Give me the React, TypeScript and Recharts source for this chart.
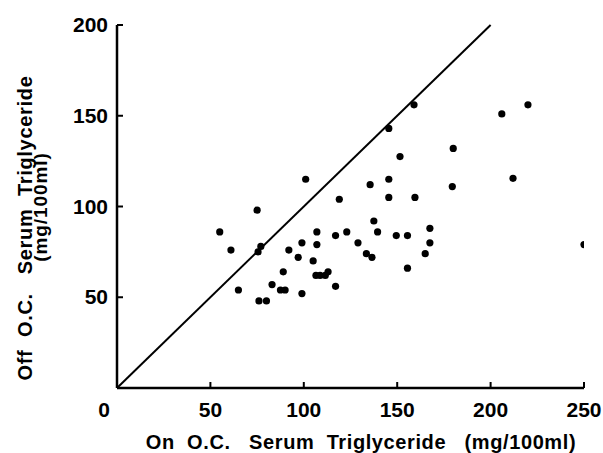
import { ScatterChart, Scatter, XAxis, YAxis, ReferenceLine } from "recharts";

// On O.C. (x) vs Off O.C. (y) serum triglyceride, mg/100ml
const onOC = [
  55, 61, 65, 75, 75.5, 77, 76, 80, 83, 89, 87.5, 90, 92, 97, 99, 99, 101, 105,
  107, 107, 106.5, 108.7, 111.5, 113, 117, 117, 119, 123, 129, 133.5, 135.5,
  136.5, 137.5, 139.5, 145.5, 145.5, 145.5, 149.5, 151.5, 155.5, 155.5, 159,
  159.5, 165, 167.5, 167.5, 180, 179.5, 206, 212, 220, 250,
];
const offOC = [
  86, 76, 54, 98, 75, 78, 48, 48, 57, 64, 54, 54, 76, 72, 80, 52, 115, 70,
  86, 79, 62, 62, 62, 64, 84, 56, 104, 86, 80, 74, 112, 72, 92, 86, 143, 115,
  105, 84, 127.5, 84, 66, 156, 105, 74, 88, 80, 132, 111, 151, 115.5, 156, 79,
];
const points = onOC.map((x, i) => ({ x, y: offOC[i] }));

const xTicks = [0, 50, 100, 150, 200, 250];
const yTicks = [50, 100, 150, 200];
const identity = [
  { x: 0, y: 0 },
  { x: 200, y: 200 },
];

const font = "'Liberation Sans', Arial, sans-serif";
const pre = { whiteSpace: "pre" as const };

const XTick = ({ x, y, payload }: any) => (
  <g>
    {payload.value !== 0 && (
      <line x1={x} y1={y} x2={x} y2={y - 6} stroke="#000" strokeWidth={2} />
    )}
    <text
      x={payload.value === 0 ? x - 13 : x}
      y={y + 29}
      textAnchor="middle"
      fontFamily={font}
      fontWeight="bold"
      fontSize={21}
      fill="#000"
    >
      {payload.value}
    </text>
  </g>
);

const YTick = ({ x, y, payload }: any) => (
  <g>
    <line x1={x} y1={y} x2={x + 6} y2={y} stroke="#000" strokeWidth={2} />
    <text
      x={x - 9}
      y={y + 7}
      textAnchor="end"
      fontFamily={font}
      fontWeight="bold"
      fontSize={21}
      fill="#000"
    >
      {payload.value}
    </text>
  </g>
);

const Dot = (p: any) => <circle cx={p.cx} cy={p.cy} r={3.6} fill="#000" />;

export default function App() {
  return (
    <div style={{ position: "absolute", left: 0, top: 0, width: 603, height: 453, background: "#fff" }}>
      <ScatterChart
        width={603}
        height={453}
        margin={{ top: 25, right: 19, bottom: 5, left: 57 }}
      >
        <XAxis
          type="number"
          dataKey="x"
          domain={[0, 250]}
          ticks={xTicks}
          tick={<XTick />}
          tickLine={false}
          tickSize={0}
          tickMargin={0}
          axisLine={{ stroke: "#000", strokeWidth: 2.5 }}
          height={60}
          allowDataOverflow
        />
        <YAxis
          type="number"
          dataKey="y"
          domain={[0, 200]}
          ticks={yTicks}
          tick={<YTick />}
          tickLine={false}
          tickSize={0}
          tickMargin={0}
          axisLine={{ stroke: "#000", strokeWidth: 2.5 }}
          width={60}
          allowDataOverflow
        />
        <ReferenceLine segment={identity} stroke="#000" strokeWidth={2} />
        <Scatter data={points} shape={<Dot />} isAnimationActive={false} />
      </ScatterChart>
      <svg
        width={603}
        height={453}
        style={{ position: "absolute", left: 0, top: 0, pointerEvents: "none" }}
      >
        <g fontFamily={font} fontWeight="bold" fill="#000">
          <text
            x={361}
            y={449}
            textAnchor="middle"
            fontSize={20}
            letterSpacing={0.6}
            xmlSpace="preserve"
            style={pre}
          >
            {"On  O.C.   Serum  Triglyceride   (mg/100ml)"}
          </text>
          <text
            x={32}
            y={228}
            transform="rotate(-90, 32, 228)"
            textAnchor="middle"
            fontSize={20}
            letterSpacing={0.7}
            xmlSpace="preserve"
            style={pre}
          >
            {"Off  O.C.   Serum  Triglyceride"}
          </text>
          <text
            x={47}
            y={207}
            transform="rotate(-90, 47, 207)"
            textAnchor="middle"
            fontSize={19}
            letterSpacing={0.9}
            style={pre}
          >
            {"(mg/100ml)"}
          </text>
        </g>
      </svg>
    </div>
  );
}
